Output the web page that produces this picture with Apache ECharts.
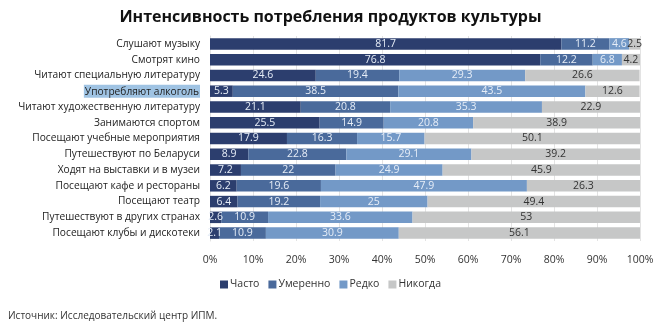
<!DOCTYPE html>
<html><head><meta charset="utf-8">
<script src="https://cdn.jsdelivr.net/npm/echarts@6/dist/echarts.min.js"></script>
<style>html,body{margin:0;padding:0;background:#fff;}#c{width:661px;height:325px;}</style>
</head><body><div id="c"></div>
<script>
const categories = [
  'Слушают музыку','Смотрят кино','Читают специальную литературу','Употребляют алкоголь',
  'Читают художественную литературу','Занимаются спортом','Посещают учебные мероприятия',
  'Путешествуют по Беларуси','Ходят на выставки и в музеи','Посещают кафе и рестораны',
  'Посещают театр','Путешествуют в других странах','Посещают клубы и дискотеки'
];
const often    = [81.7, 76.8, 24.6, 5.3, 21.1, 25.5, 17.9, 8.9, 7.2, 6.2, 6.4, 2.6, 2.1];
const moderate = [11.2, 12.2, 19.4, 38.5, 20.8, 14.9, 16.3, 22.8, 22, 19.6, 19.2, 10.9, 10.9];
const rarely   = [4.6, 6.8, 29.3, 43.5, 35.3, 20.8, 15.7, 29.1, 24.9, 47.9, 25, 33.6, 30.9];
const never    = [2.5, 4.2, 26.6, 12.6, 22.9, 38.9, 50.1, 39.2, 45.9, 26.3, 49.4, 53, 56.1];
const seriesNames = ['Часто','Умеренно','Редко','Никогда'];
const tickLabels = ['0%','10%','20%','30%','40%','50%','60%','70%','80%','90%','100%'];

const colors = ['#2c3e6e','#4a6a9b','#7399c7','#c6c7c7'];
const dataSets = [often, moderate, rarely, never];
const FONT = 'Open Sans';

const chart = echarts.init(document.getElementById('c'));
chart.setOption({
  animation: false,
  title: {
    text: 'Интенсивность потребления продуктов культуры',
    left: 'center', top: 4,
    textStyle: {fontFamily: FONT, fontSize: 16, fontWeight: 'bold', color: '#111'}
  },
  legend: {
    data: seriesNames, bottom: 30, left: 'center',
    itemWidth: 8, itemHeight: 8, itemGap: 9,
    icon: 'rect',
    textStyle: {fontFamily: FONT, fontSize: 10.5, color: '#333', padding: [0,0,0,-3]}
  },
  graphic: [{
    type: 'text', left: 8, top: 311,
    style: {text: 'Источник: Исследовательский центр ИПМ.', font: '10px "Open Sans"', fill: '#333'}
  }],
  grid: {left: 210, right: 21, top: 36, bottom: 84, containLabel: false},
  xAxis: {
    type: 'value', min: 0, max: 100, interval: 10,
    axisLine: {show: false},
    axisTick: {show: false},
    splitLine: {show: true, lineStyle: {color: '#e3e3e3', width: 1}},
    axisLabel: {
      margin: 14, fontFamily: FONT, fontSize: 10.5, color: '#333',
      formatter: (v) => tickLabels[Math.round(v/10)]
    }
  },
  yAxis: {
    type: 'category', data: categories, inverse: true,
    axisLine: {show: true, lineStyle: {color: '#e3e3e3'}},
    axisTick: {show: false},
    axisLabel: {
      margin: 10, fontFamily: FONT, fontSize: 10.2, color: '#222',
      formatter: (v) => v === 'Употребляют алкоголь' ? '{hl|' + v + '}' : v,
      rich: {hl: {backgroundColor: '#9fc3e3', fontFamily: FONT, fontSize: 10.2, color: '#222', padding: [2,1,1,1]}}
    }
  },
  series: dataSets.map((d, i) => ({
    name: seriesNames[i], type: 'bar', stack: 'total', data: d,
    barWidth: 11.5,
    itemStyle: {color: colors[i]},
    label: {
      show: true, position: 'inside', fontFamily: FONT, fontSize: 10.5,
      color: i === 3 ? '#333' : '#e6edf7',
      formatter: (p) => String(p.value)
    }
  }))
});
</script></body></html>
